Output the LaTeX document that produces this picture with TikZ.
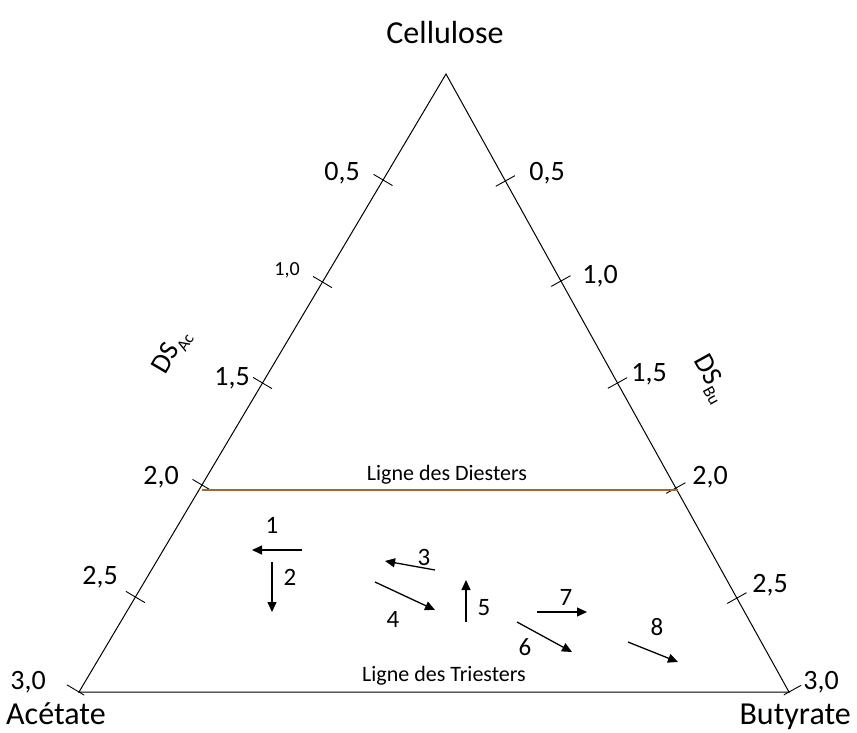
\documentclass[tikz,border=0pt]{standalone}
\usepackage{fontspec}
\setmainfont{Carlito}
\usetikzlibrary{arrows.meta,calc}
\newcommand\fsz[1]{\fontsize{#1}{#1}\selectfont}
\definecolor{diester}{RGB}{160,106,52}
\begin{document}
\begin{tikzpicture}[x=1pt,y=-1pt,
  side/.style={line width=1pt,line join=miter},
  tickmark/.style={line width=0.9pt},
  flow/.style={line width=1.3pt,-{Triangle[length=10pt,width=9pt]}},
  num/.style={font=\fsz{28},anchor=base,inner sep=0pt},
  smallnum/.style={font=\fsz{20},anchor=base,inner sep=0pt},
  arrnum/.style={font=\fsz{25},anchor=base,inner sep=0pt},
  vlabel/.style={font=\fsz{32},inner sep=0pt,anchor=base},
  linelabel/.style={font=\fsz{22},anchor=base,inner sep=0pt},
  dslabel/.style={font=\fsz{28},inner sep=0pt}]
\useasboundingbox (0,0) rectangle (857,733);
% vertices
\coordinate (C) at (446,74);
\coordinate (A) at (79,692);
\coordinate (B) at (789,692);
\draw[side] (C) -- (A) -- (B) -- cycle;
% ticks left
\foreach \t [count=\i] in {0.1715,0.3366,0.5,0.665,0.8463} {
  \coordinate (tl\i) at ($(C)!\t!(A)$);
  \draw[tickmark] ($(tl\i)!11pt!90:(A)$) -- ($(tl\i)!11pt!-90:(A)$);
}
% ticks right
\foreach \t [count=\i] in {0.1731,0.335,0.5,0.670,0.848} {
  \coordinate (tr\i) at ($(C)!\t!(B)$);
  \draw[tickmark] ($(tr\i)!11pt!90:(B)$) -- ($(tr\i)!11pt!-90:(B)$);
}
\draw[tickmark] ($(A)!14pt!90:(C)$) -- ($(A)!6pt!-90:(C)$);
\draw[tickmark] ($(B)!14pt!-90:(C)$) -- ($(B)!6pt!90:(C)$);
% diester line
\coordinate (D1) at (202,490);
\coordinate (D2) at (678,490);
\draw[diester,line width=1.4pt] (D1) -- (D2);
% vertex labels
\node[vlabel] (cel) at (445,44) {Cellulose};
\node[vlabel,anchor=base west] (ace) at (6,724) {Acétate};
\node[vlabel,anchor=base east] (but) at (851,724) {Butyrate};
% scale labels left
\node[num] (l05) at (342,181) {0,5};
\node[smallnum] (l10) at (287,275) {1,0};
\node[num] (l15) at (232,385) {1,5};
\node[num] (l20) at (161,484) {2,0};
\node[num] (l25) at (100,584) {2,5};
\node[num] (l30) at (28,689) {3,0};
% scale labels right
\node[num] (r05) at (547,181) {0,5};
\node[num] (r10) at (600,283) {1,0};
\node[num] (r15) at (649,381) {1,5};
\node[num] (r20) at (710,484) {2,0};
\node[num] (r25) at (770,592) {2,5};
\node[num] (r30) at (821,689) {3,0};
% axis names
\node[dslabel,rotate=59.4] (dsac) at (172,352) {DS\raisebox{-0.22em}{\fsz{17}Ac}};
\node[dslabel,rotate=-61] (dsbu) at (710,379) {DS\raisebox{-0.22em}{\fsz{17}Bu}};
% line labels
\node[linelabel] (ldi) at (447,480) {Ligne des Diesters};
\node[linelabel] (ltri) at (444,681) {Ligne des Triesters};
% arrows
\coordinate (a1s) at (302,550); \coordinate (a1e) at (252,550);
\coordinate (a2s) at (272,562); \coordinate (a2e) at (272,612);
\coordinate (a3s) at (435,570); \coordinate (a3e) at (385,561);
\coordinate (a4s) at (375,582); \coordinate (a4e) at (435,610);
\coordinate (a5s) at (466,622); \coordinate (a5e) at (466,580);
\coordinate (a6s) at (517,622); \coordinate (a6e) at (572,652);
\coordinate (a7s) at (537,612); \coordinate (a7e) at (587,612);
\coordinate (a8s) at (628,642); \coordinate (a8e) at (678,662);
\foreach \k in {1,...,8} { \draw[flow] (a\k s) -- (a\k e); }
% arrow numbers
\node[arrnum] (n1) at (272,533) {1};
\node[arrnum] (n2) at (290,585) {2};
\node[arrnum] (n3) at (424,565) {3};
\node[arrnum] (n4) at (393,627) {4};
\node[arrnum] (n5) at (484,615) {5};
\node[arrnum] (n6) at (525,655) {6};
\node[arrnum] (n7) at (566,605) {7};
\node[arrnum] (n8) at (657,635) {8};
\end{tikzpicture}
\end{document}
